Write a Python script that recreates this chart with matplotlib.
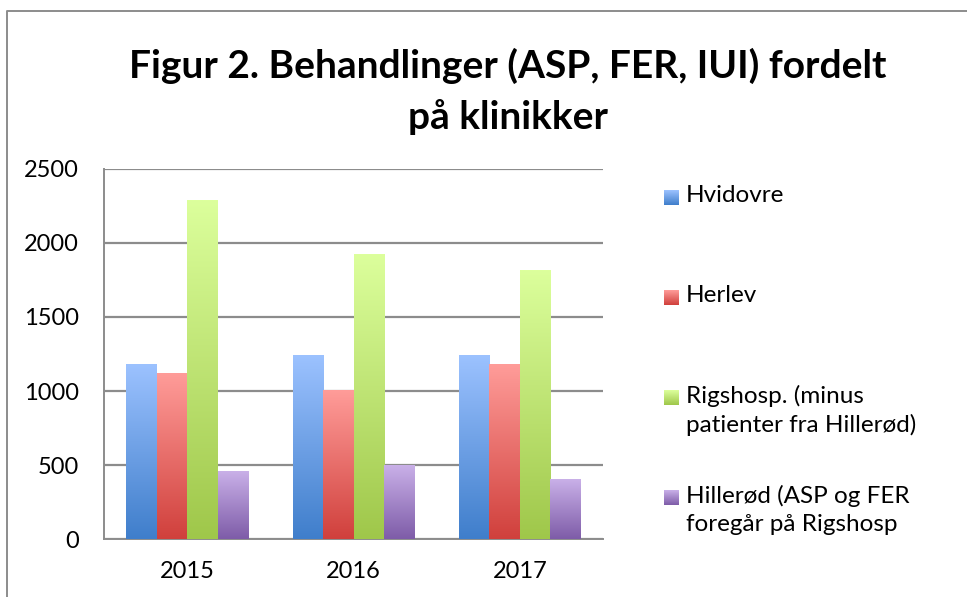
import numpy as np
import matplotlib
matplotlib.use("Agg")
import matplotlib.pyplot as plt
from matplotlib.colors import LinearSegmentedColormap

plt.rcParams["font.family"] = ["Lato", "DejaVu Sans"]

years = ["2015", "2016", "2017"]
series = [
    "Hvidovre",
    "Herlev",
    "Rigshosp. (minus\npatienter fra Hillerød)",
    "Hillerød (ASP og FER\nforegår på Rigshosp",
]
hvidovre = [1182, 1243, 1243]
herlev = [1115, 1002, 1176]
rigshosp = [2284, 1919, 1811]
hillerod = [459, 495, 399]
values = [hvidovre, herlev, rigshosp, hillerod]
title_lines = ["Figur 2. Behandlinger (ASP, FER, IUI) fordelt", "på klinikker"]

# gradient colours (top, bottom)
grad_colors = [
    ("#9CC2FF", "#3F7ECB"),
    ("#FF9C99", "#D0403C"),
    ("#DCFF9C", "#9FC74A"),
    ("#C9B0E8", "#7E5CA8"),
]

W, H = 967, 597
fig = plt.figure(figsize=(W / 100, H / 100), dpi=100)
ax = fig.add_axes([104 / W, 1 - 539 / H, (603 - 104) / W, (539 - 169) / H])

x = np.arange(len(years))
n = len(series)
bw = 0.73 / n
grid_col = "#8C8C8C"

for i, (vals, (ctop, cbot)) in enumerate(zip(values, grad_colors)):
    cmap = LinearSegmentedColormap.from_list(f"g{i}", [cbot, ctop])
    bars = ax.bar(x - 0.365 + bw * (i + 0.5), vals, bw, color="none",
                  edgecolor="none", zorder=3)
    for b in bars:
        x0, w, h = b.get_x(), b.get_width(), b.get_height()
        grad = np.linspace(0, 1, 256).reshape(-1, 1)
        ax.imshow(grad, cmap=cmap, origin="lower", aspect="auto",
                  extent=(x0, x0 + w, 0, h), zorder=3)

ax.set_xlim(-0.5, len(years) - 0.5)
ax.set_ylim(0, 2500)
ax.set_yticks(np.arange(0, 2501, 500))
ax.set_xticks(x)
ax.set_xticklabels(years)
ax.yaxis.grid(True, color=grid_col, linewidth=1.6, zorder=1)
ax.set_axisbelow(True)
for s in ["top", "right"]:
    ax.spines[s].set_visible(False)
for s in ["left", "bottom"]:
    ax.spines[s].set_color(grid_col)
    ax.spines[s].set_linewidth(1.4)
ax.tick_params(axis="y", length=0, pad=18, labelsize=17)
ax.tick_params(axis="x", length=0, pad=16, labelsize=17)

# overlay in pixel coords for title, legend and outer frame
ov = fig.add_axes([0, 0, 1, 1], zorder=-1)
ov.set_xlim(0, W)
ov.set_ylim(H, 0)
ov.axis("off")
ov.plot([7, 7, W + 5], [H + 5, 11, 11], color="#8C8C8C", lw=1.4, clip_on=False)

ov2 = fig.add_axes([0, 0, 1, 1], zorder=5)
ov2.set_xlim(0, W)
ov2.set_ylim(H, 0)
ov2.axis("off")
ov2.patch.set_alpha(0)

for line, yb in zip(title_lines, [78, 129]):
    ov2.text(508, yb, line, ha="center", va="baseline", fontsize=28,
             fontweight="bold")

leg_y = [198, 298, 398, 498]
for lbl, y, (ctop, cbot), k in zip(series, leg_y, grad_colors, range(n)):
    cmap = LinearSegmentedColormap.from_list(f"l{k}", [ctop, cbot])
    grad = np.linspace(0, 1, 64).reshape(-1, 1)
    ov2.imshow(grad, cmap=cmap, aspect="auto",
               extent=(664, 679, y + 7.5, y - 7.5))
    ov2.text(686, y - 13, lbl, ha="left", va="top", fontsize=17.5,
             linespacing=1.4)
ov2.set_xlim(0, W)
ov2.set_ylim(H, 0)

fig.savefig("out.png", dpi=100)
